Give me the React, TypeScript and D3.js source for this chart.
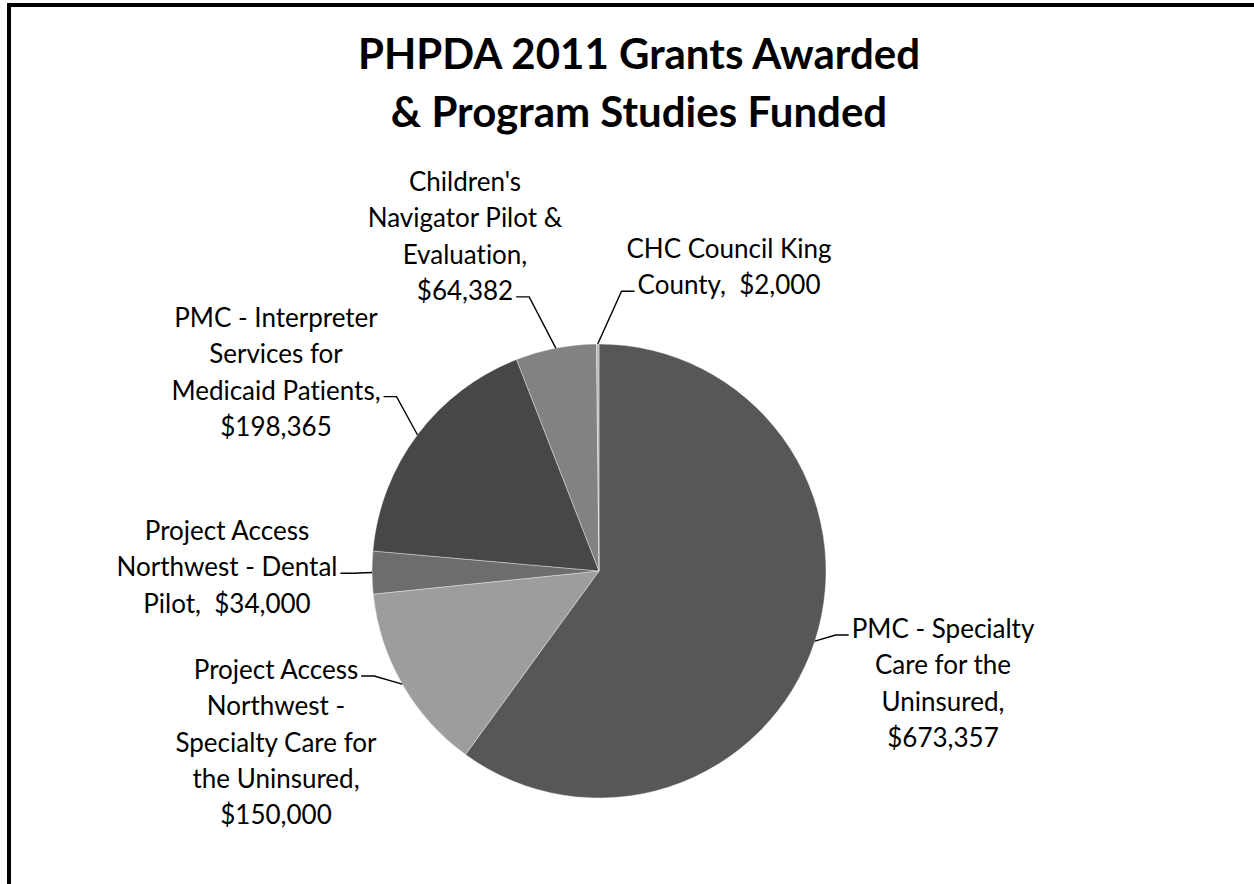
import { useRef, useEffect } from 'react';
import * as d3 from 'd3';

const W = 1254;
const H = 884;

const TITLE = ['PHPDA 2011 Grants Awarded', '& Program Studies Funded'];

const CATEGORIES = [
  'PMC - Specialty Care for the Uninsured',
  'Project Access Northwest - Specialty Care for the Uninsured',
  'Project Access Northwest - Dental Pilot',
  'PMC - Interpreter Services for Medicaid Patients',
  "Children's Navigator Pilot & Evaluation",
  'CHC Council King County',
];

const VALUES = [673357, 150000, 34000, 198365, 64382, 2000];

const COLORS = ['#575757', '#9d9d9d', '#6d6d6d', '#474747', '#828282', '#b8b8b8'];

// wrapped data label text, {v} = formatted value
const LABEL_LINES = [
  ['PMC - Specialty', 'Care for the', 'Uninsured,', '{v}'],
  ['Project Access', 'Northwest -', 'Specialty Care for', 'the Uninsured,', '{v}'],
  ['Project Access', 'Northwest - Dental', 'Pilot,  {v}'],
  ['PMC - Interpreter', 'Services for', 'Medicaid Patients,', '{v}'],
  ["Children's", 'Navigator Pilot &', 'Evaluation,', '{v}'],
  ['CHC Council King', 'County,  {v}'],
];

// label placement: center x, first baseline, which line the leader hooks to, and side
const LABEL_POS = [
  { x: 943, y: 638, line: 0, side: 'left' },
  { x: 276, y: 679, line: 0, side: 'right' },
  { x: 227, y: 540, line: 1, side: 'right' },
  { x: 276, y: 327, line: 2, side: 'right' },
  { x: 465, y: 191, line: 3, side: 'right' },
  { x: 729, y: 258, line: 1, side: 'left' },
];

const FONT = 'Lato, "Open Sans", sans-serif';
const LINE_H = 36.3;

const PieChart = () => {
  const svgRef = useRef<SVGSVGElement>(null);

  useEffect(() => {
    const svg = d3.select(svgRef.current);
    svg.selectAll('*').remove();

    svg.append('rect').attr('width', W).attr('height', H).attr('fill', '#ffffff');

    // outer frame (left + top visible)
    svg.append('path')
      .attr('d', `M9,${H} V5 H${W}`)
      .attr('fill', 'none')
      .attr('stroke', '#000')
      .attr('stroke-width', 4);

    // title
    svg.append('g')
      .selectAll('text')
      .data(TITLE)
      .join('text')
      .attr('x', 639)
      .attr('y', (_d, i) => 69 + i * 58)
      .attr('text-anchor', 'middle')
      .attr('font-family', FONT)
      .attr('font-weight', 700)
      .attr('font-size', 42)
      .attr('fill', '#000')
      .text(d => d);

    const cx = 599;
    const cy = 571;
    const radius = 227;
    const fmt = d3.format('$,');

    const g = svg.append('g').attr('transform', `translate(${cx},${cy})`);

    const pieGen = d3.pie<number>().value(d => d).sort(null);
    const arcs = pieGen(VALUES);

    const arcGen = d3.arc<d3.PieArcDatum<number>>().innerRadius(0).outerRadius(radius);
    const edgeArc = d3.arc<d3.PieArcDatum<number>>().innerRadius(radius).outerRadius(radius);

    g.selectAll('path.slice')
      .data(arcs)
      .join('path')
      .attr('class', 'slice')
      .attr('d', d => arcGen(d) || '')
      .attr('fill', (_d, i) => COLORS[i])
      .attr('stroke', '#ffffff')
      .attr('stroke-opacity', 0.45)
      .attr('stroke-width', 0.8);

    // data labels
    const labelG = svg.append('g');
    const leaderG = svg.append('g');

    arcs.forEach((d, i) => {
      const pos = LABEL_POS[i];
      const lines = LABEL_LINES[i].map(l => l.replace('{v}', fmt(d.data)));
      const texts = lines.map((line, j) =>
        labelG.append('text')
          .attr('x', pos.x)
          .attr('y', pos.y + j * LINE_H)
          .attr('text-anchor', 'middle')
          .attr('font-family', FONT)
          .attr('font-size', 26)
          .attr('fill', '#000')
          .style('white-space', 'pre')
          .style('font-variant-ligatures', 'none')
          .text(line)
      );

      const hook = texts[pos.line].node() as SVGTextElement;
      const bb = hook.getBBox();
      const ty = pos.y + pos.line * LINE_H - 3;
      const tx = pos.side === 'left' ? bb.x - 3 : bb.x + bb.width + 3;
      const elbow = pos.side === 'left' ? tx - 13 : tx + 13;
      const [px, py] = edgeArc.centroid(d);

      leaderG.append('polyline')
        .attr('points', `${tx},${ty} ${elbow},${ty} ${cx + px},${cy + py}`)
        .attr('fill', 'none')
        .attr('stroke', '#000')
        .attr('stroke-width', 1.4);
    });
  }, []);

  return <svg ref={svgRef} width={W} height={H} style={{ display: 'block' }} />;
};

export default function App() {
  return (
    <div style={{ position: 'absolute', left: 0, top: 0 }}>
      <PieChart />
    </div>
  );
}
